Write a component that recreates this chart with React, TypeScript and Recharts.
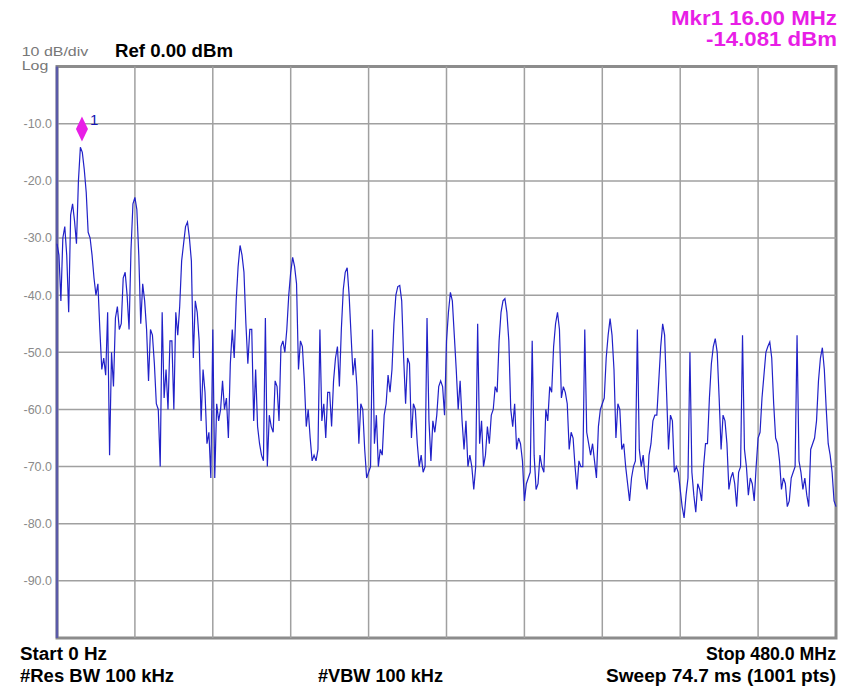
import React from 'react';
import {
  LineChart,
  Line,
  XAxis,
  YAxis,
  ReferenceLine,
  ReferenceArea,
  ReferenceDot,
} from 'recharts';

// trace in dBm, one point every 1.2 MHz, split per 48 MHz division
const div0 = [-31, -33, -41, -30, -28, -33, -43, -26, -24, -27, -31, -20, -14.1, -15, -18, -22, -29, -30, -33, -37, -40, -38, -46, -53, -51, -54, -43, -68, -50, -56, -44, -42, -46, -45, -37, -36, -40, -46, -32, -24];
const div1 = [-22.9, -25, -33, -45, -38, -41, -46, -55, -46, -47, -52, -59, -60, -70, -43, -58, -53, -60, -48, -48, -60, -43, -47, -42, -34, -31, -28, -27.2, -30, -34, -51, -41, -43, -48, -62, -53, -57, -66, -64, -72];
const div2 = [-46, -72, -59, -62, -60, -55, -60, -58, -65, -52, -46, -51, -41, -35, -31.3, -33, -36, -45, -52, -46, -46, -62, -53, -63, -66, -68, -69, -44, -70, -61, -63, -64, -55, -56, -62, -49, -48, -50, -46, -40];
const div3 = [-36, -33.4, -35, -38, -53, -48, -49, -55, -63, -60, -65, -69, -68, -69, -67, -46, -62, -59, -65, -57, -57, -63, -55, -51, -49, -56, -46, -39, -36, -35.2, -40, -47, -54, -51, -56, -66, -59, -60, -67, -72];
const div4 = [-71, -70, -46, -66, -61, -70, -67, -68, -61, -59, -54, -57, -53, -45, -40, -38.5, -38.3, -41, -51, -59, -51, -52, -65, -59, -60, -66, -70, -68, -71, -70, -44, -62, -69, -62, -64, -61, -56, -55, -56, -61];
const div5 = [-48, -43, -39.5, -41, -47, -53, -60, -55, -62, -67, -62, -70, -68, -70, -74, -70, -45, -66, -62, -70, -68, -63, -66, -61, -60, -56, -57, -48, -43, -41, -40.6, -43, -48, -60, -63, -59, -67, -65, -66, -69];
const div6 = [-76, -73, -72, -71, -48, -68, -74, -73, -68, -70, -71, -60, -62, -56, -57, -49, -45, -43, -46, -58, -56, -57, -59, -67, -64, -65, -70, -74, -69, -70, -70, -46, -64, -66, -68, -66, -69, -72, -63, -60];
const div7 = [-59, -58, -51, -47, -44.1, -47, -53, -65, -59, -60, -67, -66, -70, -73, -76, -72, -70, -69, -46, -67, -70, -68, -72, -74, -68, -66, -62, -61, -61, -55, -49, -45, -47, -57, -67, -61, -62, -71, -70, -71];
const div8 = [-74, -77, -79, -75, -72, -50, -71, -75, -78, -73, -74, -76, -70, -66, -66, -58, -52, -49, -47.6, -50, -58, -67, -61, -62, -66, -74, -72, -71, -73, -77, -71, -70, -47, -67, -70, -75, -72, -73, -76, -70];
const div9 = [-65, -64, -58, -54, -50, -49, -48.2, -51, -59, -65, -66, -69, -74, -72, -73, -77, -76, -72, -71, -70, -47, -69, -71, -74, -72, -75, -77, -67, -66, -65, -62, -55, -51, -49.2, -53, -60, -66, -68, -71, -76, -77];

const stepMHz = 1.2;
const freqGrid = [48, 96, 144, 192, 240, 288, 336, 384, 432];
const levelGrid = [-90, -80, -70, -60, -50, -40, -30, -20, -10];
const marker = { f: 16, dbm: -14.081 };

const trace = [...div0, ...div1, ...div2, ...div3, ...div4, ...div5, ...div6, ...div7, ...div8, ...div9];
const data = trace.map((v, i) => ({ f: i * stepMHz, v }));

const MAGENTA = '#e81ee6';
const FONT = '"Liberation Sans Narrow", "Liberation Sans", Arial, sans-serif';

const MarkerShape = (props: any) => {
  const { cx, cy } = props;
  const mx = cx - 1;
  const my = cy - 18;
  return (
    <g>
      <polygon
        points={`${mx},${my - 12.5} ${mx + 6},${my} ${mx},${my + 12.5} ${mx - 6},${my}`}
        fill={MAGENTA}
      />
      <text x={mx + 8} y={my - 4} fontSize={15} fontFamily={FONT} fill="#1414b4">
        1
      </text>
    </g>
  );
};

const Label = ({ x, y, size, bold, color, anchor, w, children }: any) => (
  <text
    x={x}
    y={y}
    fontSize={size}
    fontWeight={bold ? 'bold' : 'normal'}
    fill={color}
    textAnchor={anchor || 'start'}
    textLength={w}
    lengthAdjust="spacingAndGlyphs"
    fontFamily={FONT}
  >
    {children}
  </text>
);

export default function App() {
  return (
    <div style={{ position: 'absolute', left: 0, top: 0, width: 850, height: 686, background: '#fff' }}>
      <LineChart
        width={850}
        height={686}
        data={data}
        margin={{ top: 66.6, right: 14, bottom: 48, left: 0 }}
      >
        <XAxis type="number" dataKey="f" domain={[0, 480]} hide />
        <YAxis
          type="number"
          domain={[-100, 0]}
          ticks={levelGrid}
          width={57}
          tickSize={0}
          tickMargin={5}
          axisLine={false}
          tickLine={false}
          tickFormatter={(v: number) => v.toFixed(1)}
          tick={{ fontSize: 12.5, fill: '#8a8a8a', fontFamily: FONT }}
        />
        {freqGrid.map((f) => (
          <ReferenceLine key={'x' + f} x={f} stroke="#a0a0a0" strokeWidth={1.5} />
        ))}
        {levelGrid.map((l) => (
          <ReferenceLine key={'y' + l} y={l} stroke="#a0a0a0" strokeWidth={1.5} />
        ))}
        <ReferenceArea x1={0} x2={480} y1={-100} y2={0} fill="none" stroke="#8c8c8c" strokeWidth={3} />
        <ReferenceLine x={0} stroke="#5a5aa8" strokeWidth={2.5} />
        <Line
          type="linear"
          dataKey="v"
          stroke="#2121c8"
          strokeWidth={1.2}
          dot={false}
          isAnimationActive={false}
        />
        <ReferenceDot x={marker.f} y={marker.dbm} r={0} shape={MarkerShape} />
      </LineChart>
      <svg
        width={850}
        height={686}
        style={{ position: 'absolute', left: 0, top: 0, pointerEvents: 'none' }}
      >
        <Label x={837} y={25} size={21} bold color={MAGENTA} anchor="end" w={166}>Mkr1 16.00 MHz</Label>
        <Label x={837} y={46} size={21} bold color={MAGENTA} anchor="end" w={131}>-14.081 dBm</Label>
        <Label x={21.7} y={56} size={13} color="#777" w={66.6}>10 dB/div</Label>
        <Label x={115} y={56.7} size={17.5} bold color="#000" w={118}>Ref 0.00 dBm</Label>
        <Label x={21.7} y={70} size={13} color="#777" w={26.6}>Log</Label>
        <Label x={20} y={660} size={18} bold color="#000" w={87}>Start 0 Hz</Label>
        <Label x={836} y={660} size={18} bold color="#000" anchor="end" w={130}>Stop 480.0 MHz</Label>
        <Label x={20} y={682} size={18} bold color="#000" w={154}>#Res BW 100 kHz</Label>
        <Label x={318} y={682} size={18} bold color="#000" w={125}>#VBW 100 kHz</Label>
        <Label x={836} y={682} size={18} bold color="#000" anchor="end" w={230}>Sweep  74.7 ms (1001 pts)</Label>
      </svg>
    </div>
  );
}
